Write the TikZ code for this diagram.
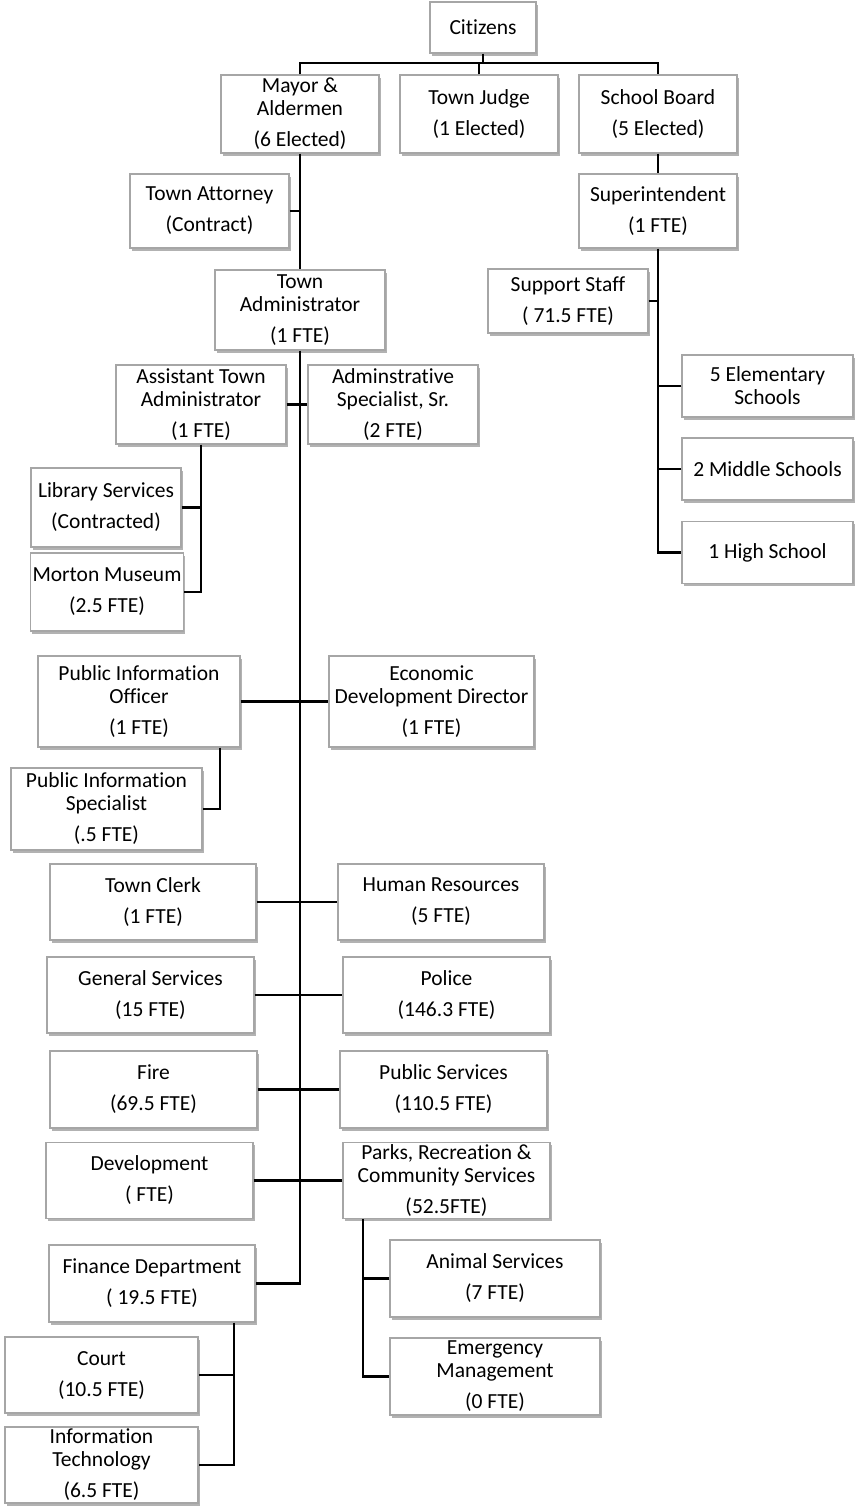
\documentclass[tikz,border=0pt]{standalone}
\usepackage{fontspec}
\setmainfont{Carlito}[Ligatures=NoCommon]
\usepackage{tikz}
\usetikzlibrary{shadows}

\tikzset{
  unit/.style={draw=gray!70, line width=1.1pt, fill=white, align=center, inner sep=2pt,
    font=\fontsize{21.5}{23}\selectfont,
    drop shadow={shadow xshift=1.5pt, shadow yshift=-2.5pt, opacity=0.3, fill=black}},
  link/.style={line width=2.5pt}
}

\begin{document}
\begin{tikzpicture}[x=1pt,y=-1pt]

\useasboundingbox (0,0) rectangle (855,1507);

\node[unit, minimum width=106pt, minimum height=51pt] (citizens) at (483,27.5) {Citizens};

\node[unit, minimum width=158pt, minimum height=78pt] (mayor) at (300,114) {Mayor \&\\Aldermen\\[8pt](6 Elected)};
\node[unit, minimum width=158pt, minimum height=78pt] (judge) at (479,114) {Town Judge\\[8pt](1 Elected)};
\node[unit, minimum width=158pt, minimum height=78pt] (board) at (658,114) {School Board\\[8pt](5 Elected)};

\node[unit, minimum width=159pt, minimum height=74pt] (attorney) at (209.5,211) {Town Attorney\\[8pt](Contract)};
\node[unit, minimum width=158pt, minimum height=74pt] (superintendent) at (658,211) {Superintendent\\[8pt](1 FTE)};

\node[unit, minimum width=170pt, minimum height=80pt] (admin) at (300,310) {Town\\Administrator\\[8pt](1 FTE)};
\node[unit, minimum width=160pt, minimum height=64pt] (support) at (568,301) {Support Staff\\[8pt]( 71.5 FTE)};

\node[unit, minimum width=170pt, minimum height=79pt] (assistant) at (201,404.5) {Assistant Town\\Administrator\\[8pt](1 FTE)};
\node[unit, minimum width=170pt, minimum height=79pt] (adminspec) at (393,404.5) {Adminstrative\\Specialist, Sr.\\[8pt](2 FTE)};

\node[unit, minimum width=171pt, minimum height=62pt] (elementary) at (767.5,386) {5 Elementary\\Schools};
\node[unit, minimum width=171pt, minimum height=62pt] (middle) at (767.5,469) {2 Middle Schools};
\node[unit, minimum width=171pt, minimum height=62pt] (high) at (767.5,552.5) {1 High School};

\node[unit, minimum width=150pt, minimum height=79pt] (library) at (106,507.5) {Library Services\\[8pt](Contracted)};
\node[unit, minimum width=152pt, minimum height=78pt] (museum) at (107,592) {Morton Museum\\[8pt](2.5 FTE)};

\node[unit, minimum width=202pt, minimum height=91pt] (pio) at (139,701.5) {Public Information\\Officer\\[8pt](1 FTE)};
\node[unit, minimum width=205pt, minimum height=91pt] (econdev) at (431.5,701.5) {Economic\\Development Director\\[8pt](1 FTE)};
\node[unit, minimum width=191pt, minimum height=82pt] (pis) at (106.5,809) {Public Information\\Specialist\\[8pt](.5 FTE)};

\node[unit, minimum width=206pt, minimum height=76pt] (clerk) at (153,902) {Town Clerk\\[8pt](1 FTE)};
\node[unit, minimum width=206pt, minimum height=76pt] (hr) at (441,902) {Human Resources\\[8pt](5 FTE)};

\node[unit, minimum width=207pt, minimum height=76pt] (general) at (150.5,995) {General Services\\[8pt](15 FTE)};
\node[unit, minimum width=207pt, minimum height=76pt] (police) at (446.5,995) {Police\\[8pt](146.3 FTE)};

\node[unit, minimum width=207pt, minimum height=77pt] (fire) at (153.5,1089.5) {Fire\\[8pt](69.5 FTE)};
\node[unit, minimum width=207pt, minimum height=77pt] (pubsvc) at (443.5,1089.5) {Public Services\\[8pt](110.5 FTE)};

\node[unit, minimum width=207pt, minimum height=76pt] (development) at (149.5,1180.5) {Development\\[8pt]( FTE)};
\node[unit, minimum width=207pt, minimum height=76pt] (parks) at (446.5,1180.5) {Parks, Recreation \&\\Community Services\\[8pt](52.5FTE)};

\node[unit, minimum width=206pt, minimum height=77pt] (finance) at (152,1283.5) {Finance Department\\[8pt]( 19.5 FTE)};
\node[unit, minimum width=210pt, minimum height=77pt] (animal) at (495,1278.5) {Animal Services\\[8pt](7 FTE)};
\node[unit, minimum width=210pt, minimum height=77pt] (emergency) at (495,1376.5) {Emergency\\Management\\[8pt](0 FTE)};

\node[unit, minimum width=193pt, minimum height=76pt] (court) at (101.5,1375) {Court\\[8pt](10.5 FTE)};
\node[unit, minimum width=193pt, minimum height=76pt] (infotech) at (101.5,1465) {Information\\Technology\\[8pt](6.5 FTE)};

\coordinate (bus) at (483,63);
\coordinate (pio-stem) at ([xshift=81pt]pio.south);
\coordinate (parks-stem) at ([xshift=-83.5pt]parks.south);
\coordinate (finance-stem) at ([xshift=82pt]finance.south);

\draw[link] (citizens.south) -- (bus);
\draw[link] (mayor.north) |- (bus) -| (board.north);
\draw[link] (judge.north) -- (judge.north |- bus);

\draw[link] (mayor.south) -- (admin.north);
\draw[link] (attorney.east) -- (attorney.east -| admin.north);
\draw[link] (admin.south) |- (finance.east);
\draw[link] (assistant.east) -- (adminspec.west);

\draw[link] (assistant.south) |- (museum.east);
\draw[link] (library.east) -- (library.east -| assistant.south);

\draw[link] (pio.east) -- (econdev.west);
\draw[link] (pio-stem) |- (pis.east);

\draw[link] (clerk.east) -- (hr.west);
\draw[link] (general.east) -- (police.west);
\draw[link] (fire.east) -- (pubsvc.west);
\draw[link] (development.east) -- (parks.west);

\draw[link] (parks-stem) |- (emergency.west);
\draw[link] (animal.west) -- (animal.west -| parks-stem);

\draw[link] (finance-stem) |- (infotech.east);
\draw[link] (court.east) -- (court.east -| finance-stem);

\draw[link] (board.south) -- (superintendent.north);
\draw[link] (superintendent.south) |- (high.west);
\draw[link] (support.east) -- (support.east -| superintendent.south);
\draw[link] (elementary.west) -- (elementary.west -| superintendent.south);
\draw[link] (middle.west) -- (middle.west -| superintendent.south);

\end{tikzpicture}
\end{document}
